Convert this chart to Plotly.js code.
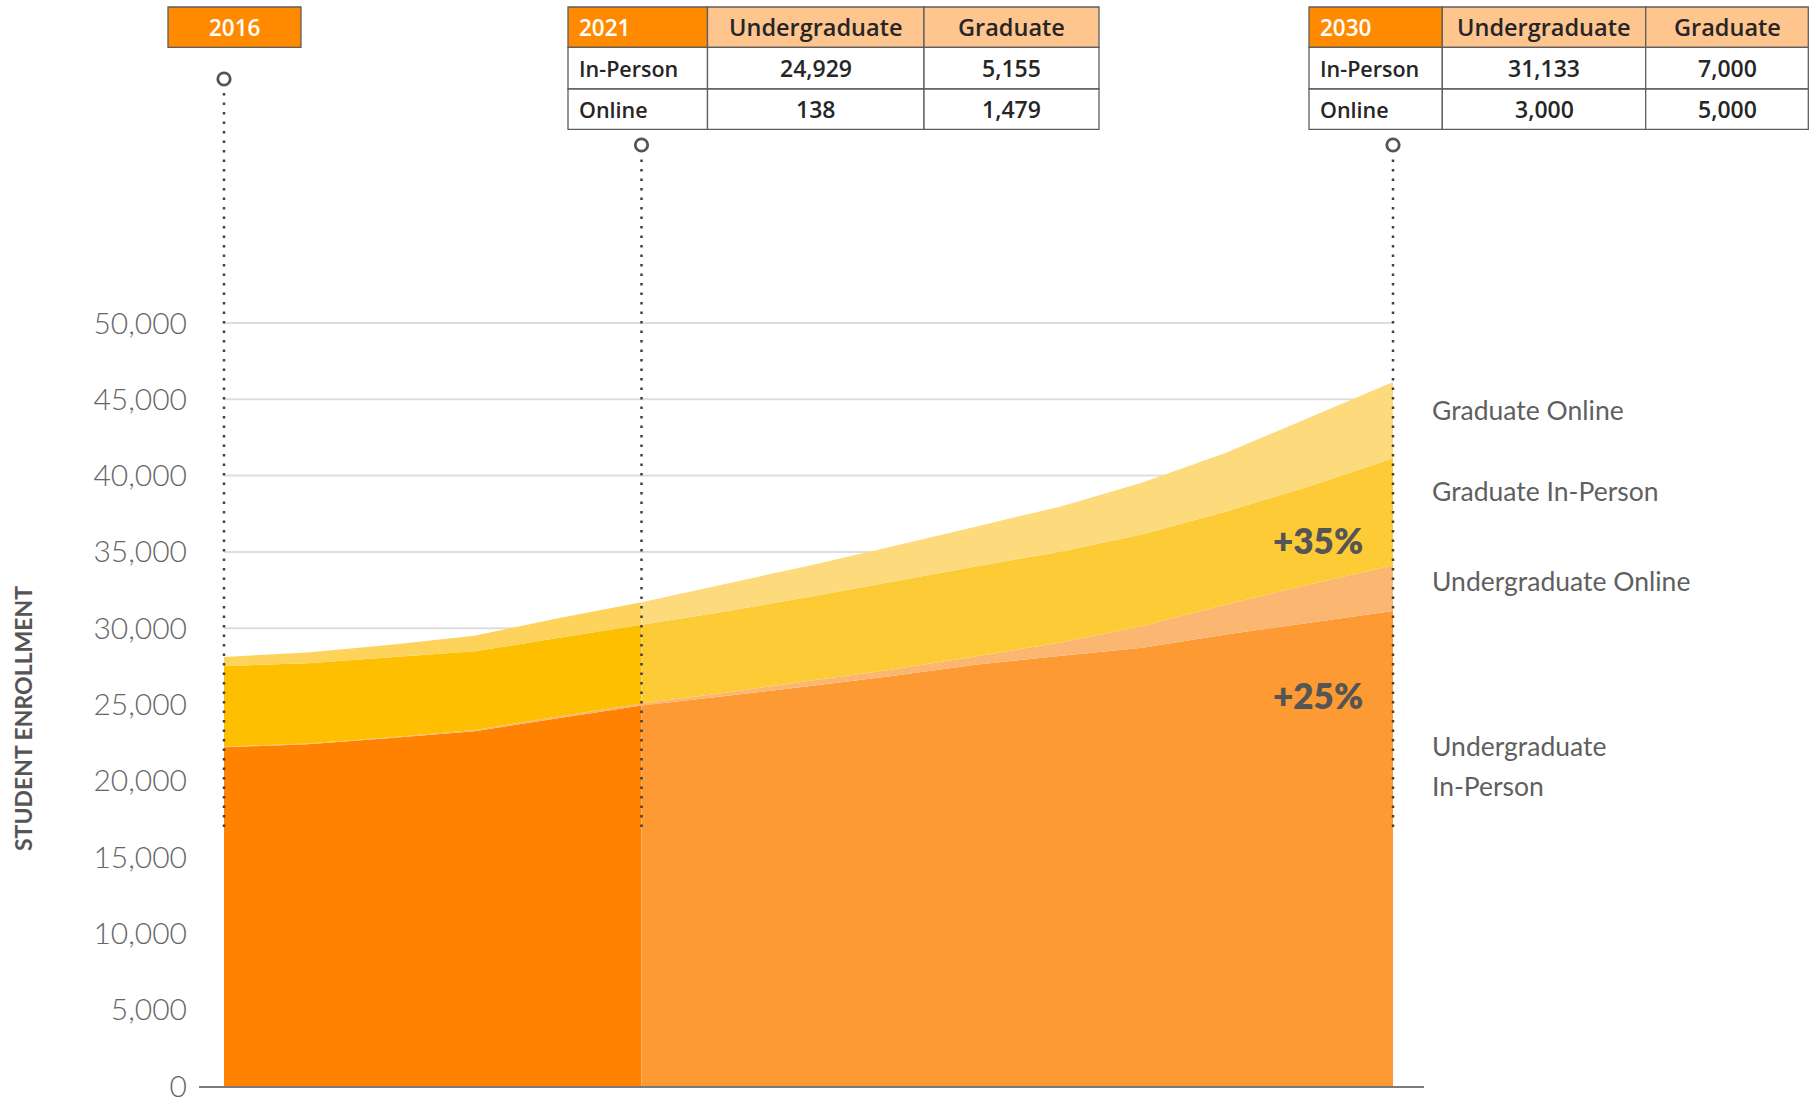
<!DOCTYPE html>
<html>
<head>
<meta charset="utf-8">
<script src="https://cdn.plot.ly/plotly-3.0.1.min.js"></script>
<style>html,body{margin:0;padding:0;background:#fff;}#chart{width:1818px;height:1103px;}</style>
</head>
<body>
<div id="chart"></div>
<script>
// ---- Data ----
const yearsHist = [2016, 2017, 2018, 2019, 2020, 2021];
const ugInHist  = [22200, 22400, 22800, 23250, 24100, 24929];
const ugOnHist  = [40, 50, 60, 80, 110, 138];
const grInHist  = [5270, 5260, 5230, 5160, 5140, 5155];
const grOnHist  = [610, 700, 830, 1020, 1300, 1479];

const yearsProj = [2021, 2022, 2023, 2024, 2025, 2026, 2027, 2028, 2029, 2030];
const ugInProj  = [24929, 25550, 26200, 26870, 27600, 28180, 28720, 29590, 30360, 31133];
const ugOnProj  = [138, 220, 340, 430, 550, 870, 1420, 1970, 2510, 3000];
const grInProj  = [5155, 5330, 5510, 5750, 5900, 5950, 6010, 6090, 6430, 7000];
const grOnProj  = [1479, 1800, 2050, 2300, 2600, 2950, 3400, 3850, 4500, 5000];

const milestoneYears = [2016, 2021, 2030];
const yTicks = [0, 5000, 10000, 15000, 20000, 25000, 30000, 35000, 40000, 45000, 50000];
const seriesLabelLines = ["Graduate Online", "Graduate In-Person", "Undergraduate Online", "Undergraduate", "In-Person"];
const growthLabels = ["+35%", "+25%"];
const tableRows = ["In-Person", "Online"];
const tableCols = ["Undergraduate", "Graduate"];
const yTitle = "STUDENT ENROLLMENT";

// ---- Helpers ----
const W = 1818, H = 1103;
const FONT = "Lato, 'Open Sans', sans-serif";
const TFONT = "'Open Sans', Lato, sans-serif";
const px = x => x / W;
const py = y => 1 - y / H;
const fmt = v => v.toLocaleString('en-US');

function area(x, y, color, group, name) {
  return {type: 'scatter', mode: 'none', x: x, y: y, stackgroup: group, fillcolor: color,
          name: name, hoverinfo: 'skip', showlegend: false};
}

const traces = [
  area(yearsHist, ugInHist, '#FF8200', 'hist', 'Undergraduate In-Person'),
  area(yearsHist, ugOnHist, '#FBB46E', 'hist', 'Undergraduate Online'),
  area(yearsHist, grInHist, '#FDBF00', 'hist', 'Graduate In-Person'),
  area(yearsHist, grOnHist, '#FDD35C', 'hist', 'Graduate Online'),
  area(yearsProj, ugInProj, '#FD9A33', 'proj', 'Undergraduate In-Person'),
  area(yearsProj, ugOnProj, '#FBB672', 'proj', 'Undergraduate Online'),
  area(yearsProj, grInProj, '#FDCB35', 'proj', 'Graduate In-Person'),
  area(yearsProj, grOnProj, '#FDDB7C', 'proj', 'Graduate Online')
];

const shapes = [];
const annotations = [];

// ---- Tables (built from the series' endpoint values) ----
function makeTable(year, ugIn, ugOn, grIn, grOn, colEdges, rowEdges) {
  const cells = [
    [String(year), tableCols[0], tableCols[1]],
    [tableRows[0], fmt(ugIn), fmt(grIn)],
    [tableRows[1], fmt(ugOn), fmt(grOn)]
  ];
  for (let r = 0; r < 3; r++) {
    for (let c = 0; c < 3; c++) {
      let fill = '#ffffff';
      if (r === 0) fill = c === 0 ? '#FF8A00' : '#FFC58F';
      shapes.push({type: 'rect', xref: 'paper', yref: 'paper',
        x0: px(colEdges[c]), x1: px(colEdges[c + 1]), y0: py(rowEdges[r + 1]), y1: py(rowEdges[r]),
        fillcolor: fill, line: {color: '#5e5e5e', width: 1.3}, layer: 'above'});
      const left = c === 0;
      const cy = (rowEdges[r] + rowEdges[r + 1]) / 2;
      let size = 23;
      if (r === 0) size = c === 0 ? 22.5 : 23.5;
      else if (c === 0) size = 21.5;
      annotations.push({
        text: cells[r][c], xref: 'paper', yref: 'paper',
        x: left ? px(colEdges[c] + 9) : px((colEdges[c] + colEdges[c + 1]) / 2),
        y: py(cy), xanchor: left ? 'left' : 'center', yanchor: 'middle', showarrow: false,
        font: {family: TFONT, size: size,
               color: (r === 0 && c === 0) ? '#ffffff' : '#262626', weight: 600}
      });
    }
  }
}
const nH = yearsHist.length - 1, nP = yearsProj.length - 1;
const rowEdges = [7, 47.3, 89, 129.3];
makeTable(yearsHist[nH], ugInHist[nH], ugOnHist[nH], grInHist[nH], grOnHist[nH], [568, 707.5, 924, 1099], rowEdges);
makeTable(yearsProj[nP], ugInProj[nP], ugOnProj[nP], grInProj[nP], grOnProj[nP], [1309, 1442.3, 1645.7, 1808.3], rowEdges);

// 2016 header box
shapes.push({type: 'rect', xref: 'paper', yref: 'paper', x0: px(168), x1: px(301), y0: py(47.3), y1: py(7),
  fillcolor: '#FF8A00', line: {color: '#5e5e5e', width: 1.3}});
annotations.push({text: String(milestoneYears[0]), xref: 'paper', yref: 'paper', x: px(234.5), y: py(27.5),
  xanchor: 'center', yanchor: 'middle', showarrow: false,
  font: {family: TFONT, size: 22.5, color: '#ffffff', weight: 600}});

// ---- Gridlines, milestone lines, circles ----
yTicks.filter(v => v > 0).forEach(v => shapes.push({
  type: 'line', xref: 'x', yref: 'y', x0: yearsHist[0], x1: yearsProj[nP], y0: v, y1: v,
  line: {color: '#dedede', width: 2}, layer: 'below'
}));
const circleY = [79, 145, 145];
milestoneYears.forEach((yr, i) => {
  shapes.push({type: 'line', xref: 'x', yref: 'paper', x0: yr, x1: yr, y0: py(827), y1: py(circleY[i] + 9),
    line: {color: '#404040', width: 2.5, dash: '2.5px,7px'}, layer: 'above'});
  shapes.push({type: 'circle', xref: 'x', yref: 'paper', xsizemode: 'pixel', ysizemode: 'pixel',
    xanchor: yr, yanchor: py(circleY[i]), x0: -6.2, x1: 6.2, y0: -6.2, y1: 6.2,
    line: {color: '#555555', width: 2.8}, fillcolor: 'rgba(0,0,0,0)', layer: 'above'});
});

// ---- Text annotations ----
annotations.push({text: yTitle, xref: 'paper', yref: 'paper', x: px(23), y: py(719), textangle: -90,
  xanchor: 'center', yanchor: 'middle', showarrow: false,
  font: {family: FONT, size: 23, color: '#555', weight: 700}});
const labelY = [410, 491, 581, 746, 786];
seriesLabelLines.forEach((t, i) => annotations.push({
  text: t, xref: 'paper', yref: 'paper', x: px(1430), y: py(labelY[i]), xanchor: 'left', yanchor: 'middle',
  align: 'left', showarrow: false, font: {family: FONT, size: 26.5, color: '#5f5f5f'}
}));
const growthY = [540, 695];
growthLabels.forEach((t, i) => annotations.push({
  text: t, xref: 'paper', yref: 'paper', x: px(1365), y: py(growthY[i]), xanchor: 'right', yanchor: 'middle',
  showarrow: false, font: {family: FONT, size: 35, color: '#555', weight: 800}
}));

const layout = {
  width: W, height: H,
  margin: {l: 0, r: 0, t: 0, b: 0},
  paper_bgcolor: '#ffffff', plot_bgcolor: 'rgba(0,0,0,0)',
  showlegend: false,
  xaxis: {domain: [px(199), px(1424)], range: [2015.7006, 2030.3713], showgrid: false, zeroline: false,
          showticklabels: false, ticks: '', showline: true, linecolor: '#7a7a7a', linewidth: 1.5, fixedrange: true},
  yaxis: {domain: [17 / H, 1], range: [0, 50000 * 1086 / 763], showgrid: false, zeroline: false,
          tickvals: yTicks, tickformat: ',', ticks: '', ticklabelstandoff: 11,
          tickfont: {family: FONT, size: 30, color: '#666', weight: 300}, fixedrange: true},
  shapes: shapes,
  annotations: annotations,
  hovermode: false
};

Plotly.newPlot('chart', traces, layout, {displayModeBar: false, staticPlot: true});
</script>
</body>
</html>
